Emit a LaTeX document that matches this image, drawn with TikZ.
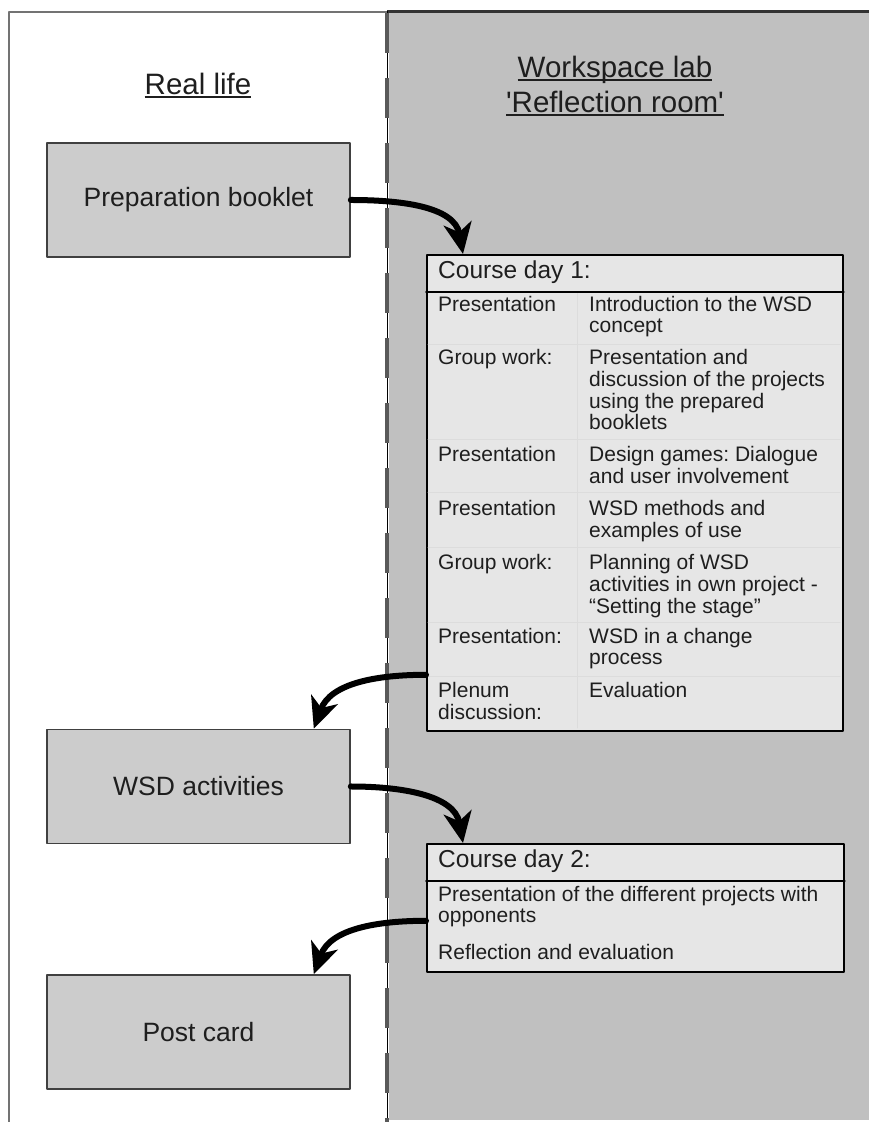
\documentclass[tikz,border=0pt]{standalone}
\usepackage{fontspec}
\setmainfont{Liberation Sans}
\usetikzlibrary{arrows.meta}
\definecolor{panel}{RGB}{192,192,192}
\definecolor{boxfill}{RGB}{204,204,204}
\definecolor{dayfill}{RGB}{230,230,230}
\definecolor{rowline}{RGB}{220,220,220}
\definecolor{ink}{RGB}{30,30,30}
\newcommand\headul[1]{\setbox0\hbox{#1}\rlap{\rule[-3pt]{\wd0}{1.6pt}}\box0}
\newcommand\cellrows[1]{\begin{tabular}[t]{@{}l@{}}#1\end{tabular}}
\frenchspacing
\begin{document}
\begin{tikzpicture}[x=1pt, y=1pt, line join=round, line cap=round,
  realbox/.style={draw=black!75, line width=1.6pt, fill=boxfill, minimum width=303, minimum height=114, text=ink, font=\fontsize{26.5}{30}\selectfont},
  headtext/.style={anchor=base, inner sep=0, text=ink, font=\fontsize{29.5}{34}\selectfont},
  daybox/.style={draw=black, line width=1.8pt, fill=dayfill, inner sep=0, anchor=north west},
  cell/.style={anchor=base west, inner sep=0, text=ink, font=\fontsize{21}{21}\selectfont},
  dayhead/.style={cell, font=\fontsize{24.5}{28}\selectfont},
  flow/.style={line width=6pt, -{Stealth[length=31pt, width=28pt, inset=9pt]}}]
\def\colA{438} \def\colB{589}
\useasboundingbox (0,0) rectangle (869,1122);
\fill[panel] (389,2) rectangle (869,1110);
\draw[black!55, line width=1.5pt, line cap=butt] (9,0) -- (9,1110) -- (387,1110);
\draw[black!80, line width=3pt, line cap=butt] (387,1110) -- (869,1110);
\draw[black, line width=0.8pt, line cap=butt] (387,0) -- (387,1111);
\draw[black!65, line width=4pt, line cap=butt, dash pattern=on 40pt off 25pt] (387,1109) -- (387,0);
\node[headtext] (real) at (198,1027) {\headul{Real life}};
\node[headtext] (lab) at (615,1044) {\headul{Workspace lab}};
\node[headtext] (room) at (615,1009) {\headul{\textquotesingle Reflection room\textquotesingle}};
\node[realbox] (prep) at (198.5,922) {Preparation booklet};
\node[realbox] (wsd) at (198.5,335.5) {WSD activities};
\node[realbox] (post) at (198.5,90) {Post card};
\node[daybox, minimum width=416, minimum height=476] (day1) at (426,868) {};
\foreach \y in {777,682,629,574,499,445}
  \draw[rowline, line width=1pt] (428,\y) -- (840,\y);
\draw[rowline, line width=1pt] (577,829) -- (577,394);
\draw[line width=1.8pt] (day1.west |- 0,830) -- (day1.east |- 0,830);
\node[dayhead] (h1) at (\colA,843) {Course day 1:};
\node[cell] (a1) at (\colA,810) {Presentation};
\node[cell] (b1) at (\colB,810) {\cellrows{Introduction to the WSD\\concept}};
\node[cell] (a2) at (\colA,757) {Group work:};
\node[cell] (b2) at (\colB,757) {\cellrows{Presentation and\\discussion of the projects\\using the prepared\\booklets}};
\node[cell] (a3) at (\colA,660) {Presentation};
\node[cell] (b3) at (\colB,660) {\cellrows{Design games: Dialogue\\and user involvement}};
\node[cell] (a4) at (\colA,606) {Presentation};
\node[cell] (b4) at (\colB,606) {\cellrows{WSD methods and\\examples of use}};
\node[cell] (a5) at (\colA,552) {Group work:};
\node[cell] (b5) at (\colB,552) {\cellrows{Planning of WSD\\activities in own project -\\``Setting the stage''}};
\node[cell] (a6) at (\colA,478) {Presentation:};
\node[cell] (b6) at (\colB,478) {\cellrows{WSD in a change\\process}};
\node[cell] (a7) at (\colA,424) {\cellrows{Plenum\\discussion:}};
\node[cell] (b7) at (\colB,424) {Evaluation};
\node[daybox, minimum width=417, minimum height=128] (day2) at (426,279) {};
\draw[line width=1.8pt] (day2.west |- 0,241) -- (day2.east |- 0,241);
\node[dayhead] (h2) at (\colA,254) {Course day 2:};
\node[cell] (c1) at (\colA,220) {\cellrows{Presentation of the different projects with\\opponents}};
\node[cell] (c2) at (\colA,162) {Reflection and evaluation};
\draw[flow] (prep.east) to[out=0, in=100] ([xshift=37]day1.north west);
\draw[flow] ([yshift=57]day1.south west) to[out=180, in=70] ([xshift=-37]wsd.north east);
\draw[flow] (wsd.east) to[out=0, in=100] ([xshift=37]day2.north west);
\draw[flow] ([yshift=52]day2.south west) to[out=180, in=70] ([xshift=-37]post.north east);
\end{tikzpicture}
\end{document}
